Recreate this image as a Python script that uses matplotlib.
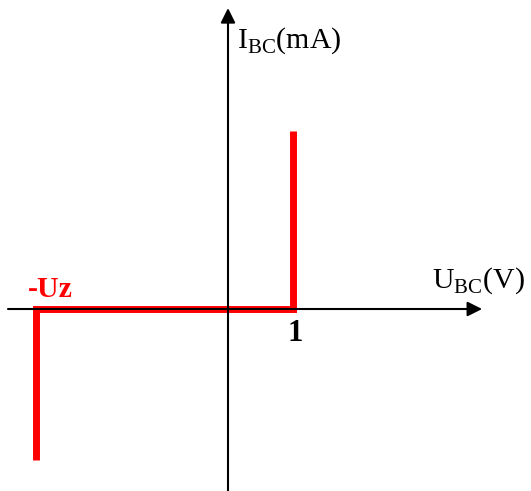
import matplotlib
matplotlib.use("Agg")
import matplotlib.pyplot as plt

# diode characteristic I_BC = f(U_BC)
U = [-2.95, -2.95, 1.0, 1.0]   # V
I = [-2.32, 0.0, 0.0, 2.74]    # mA (arbitrary scale)

Uz = -2.95
U_ticks = [1]
U_ticklabels = ['1']

plt.rcParams['font.family'] = ['Liberation Serif', 'DejaVu Serif']
plt.rcParams['mathtext.fontset'] = 'custom'
plt.rcParams['mathtext.rm'] = 'Liberation Serif'

fig = plt.figure(figsize=(5.31, 4.91), dpi=100)
ax = fig.add_axes([0, 0, 1, 1])
ax.set_xlim(-3.508, 4.662)
ax.set_ylim(-2.8, 4.754)
ax.axis('off')

# axes with arrows
ax.annotate('', xy=(3.91, 0), xytext=(-3.385, 0),
            arrowprops=dict(arrowstyle='-|>', color='black', lw=1.5,
                            mutation_scale=22, shrinkA=0, shrinkB=0))
ax.annotate('', xy=(0, 4.63), xytext=(0, -2.8),
            arrowprops=dict(arrowstyle='-|>', color='black', lw=1.5,
                            mutation_scale=22, shrinkA=0, shrinkB=0))

ax.plot(U, I, color='#ff0000', lw=5.0, solid_joinstyle='miter', solid_capstyle='butt')

ax.text(0.138, 4.015, r'I$_{\mathrm{BC}}$(mA)', fontsize=21.5, va='baseline', ha='left')
ax.text(3.138, 0.323, r'U$_{\mathrm{BC}}$(V)', fontsize=21.5, va='baseline', ha='left')
ax.text(Uz - 0.127, 0.185, '-Uz', fontsize=21.5, color='#ff0000', fontweight='bold',
        va='baseline', ha='left')
for u, lab in zip(U_ticks, U_ticklabels):
    ax.text(u + 0.03, -0.49, lab, fontsize=22, fontweight='bold', va='baseline', ha='center')

fig.savefig('out.png', dpi=100)
